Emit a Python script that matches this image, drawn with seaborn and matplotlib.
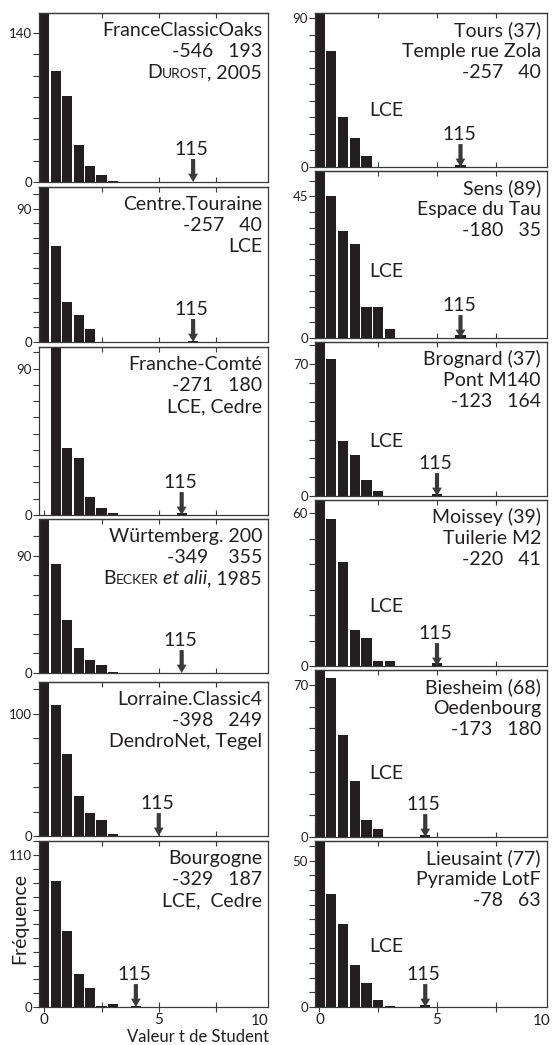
import numpy as np
import pandas as pd
import seaborn as sns
import matplotlib
matplotlib.use("Agg")
import matplotlib.pyplot as plt

# panels: left column top -> bottom, then right column top -> bottom
labels = [
    ["FranceClassicOaks", "-546   193", [("D", "n"), ("UROST", "sc"), (", 2005", "n")]],
    ["Centre.Touraine", "-257   40", "LCE"],
    ["Franche-Comté", "-271   180", "LCE, Cedre"],
    ["Würtemberg. 200", "-349    355",
     [("B", "n"), ("ECKER", "sc"), (" ", "gap"), ("et alii", "it"), (", 1985", "n")]],
    ["Lorraine.Classic4", "-398   249", "DendroNet, Tegel"],
    ["Bourgogne", "-329   187", "LCE,  Cedre"],
    ["Tours (37)", "Temple rue Zola", "-257   40"],
    ["Sens (89)", "Espace du Tau", "-180   35"],
    ["Brognard (37)", "Pont M140", "-123   164"],
    ["Moissey (39)", "Tuilerie M2", "-220   41"],
    ["Biesheim (68)", "Oedenbourg", "-173   180"],
    ["Lieusaint (77)", "Pyramide LotF", "-78   63"],
]

# counts per t-value bin (bins of 0.5, first bin centred on 0)
counts = [
    [220, 104, 81, 35, 15, 7, 1],
    [140, 65, 27, 18, 9],
    [0, 150, 41.5, 35, 11, 4.5, 1],
    [160, 84, 41, 19, 10, 6, 1],
    [150, 107, 67, 33, 19, 13, 2],
    [150, 91, 55, 24, 13.5, 1, 2],
    [120, 70, 30, 17.6, 6.7],
    [60, 45, 34, 30, 10, 10, 3],
    [100, 73, 29, 22, 8.4, 2.5],
    [80, 58, 41, 14, 11, 2, 2],
    [100, 73, 47, 26, 8, 3.5],
    [70, 38.6, 28.5, 14.3, 8.3, 2.3, 0.5],
]
# t value of sample 115 and its bin count
sample_t = [6.5, 6.5, 6.0, 6.0, 5.0, 4.0, 6.0, 6.0, 5.0, 5.0, 4.5, 4.5]
sample_n = [0, 1, 1, 0, 0, 1, 1, 1, 1, 1, 1, 0.6]
sample_id = "115"

ymax = [159, 104.6, 103.3, 118.3, 125.8, 120.3, 93.3, 53.1, 81.8, 65.3, 76.9, 56.7]
ystep = [20, 10, 10, 15, 20, 10, 10, 5, 10, 10, 10, 5]
ytop_label = [140, 90, 90, 90, 100, 110, 90, 45, 70, 60, 70, 50]
bin_w = 0.5

# floating "LCE" in the right column (axes fraction height)
lce_y = [0.369, 0.398, 0.352, 0.356, 0.38, 0.366]

sns.set_style("ticks")
plt.rcParams["font.family"] = ["Lato", "DejaVu Sans"]
INK = "#231f20"
AX = "#3a3a3a"
FS = 14

W, H = 552, 1045
fig = plt.figure(figsize=(W / 100, H / 100), dpi=100)
renderer = fig.canvas.get_renderer()

left_rows = [(13, 182), (187, 342), (347, 515), (519, 673), (682, 836), (841, 1007)]
right_rows = [(13, 167), (171, 338), (342, 496), (500, 666), (670, 837), (841, 1007)]
cols = [(39, 268, (-0.23, 9.77), left_rows), (315, 547, (-0.19, 9.68), right_rows)]


def right_line(ax, parts, y_pt):
    x_pt = 0
    for txt, kind in reversed(parts):
        if kind == "gap":
            x_pt -= 3.5
            continue
        t = ax.annotate(txt, xy=(0.974, 1), xycoords="axes fraction",
                        xytext=(x_pt, -y_pt), textcoords="offset points",
                        ha="right", va="baseline", color=INK,
                        fontsize=10 if kind == "sc" else FS,
                        fontstyle="italic" if kind == "it" else "normal")
        x_pt -= t.get_window_extent(renderer).width * 72 / fig.dpi


axes = []
for c, (x0, x1, xl, rows) in enumerate(cols):
    for r, (top, bot) in enumerate(rows):
        i = c * 6 + r
        ax = fig.add_axes([x0 / W, 1 - bot / H, (x1 - x0) / W, (bot - top) / H])
        axes.append(ax)

        n = counts[i]
        df = pd.DataFrame({"t": list(np.arange(len(n)) * bin_w) + [sample_t[i]],
                           "n": list(n) + [sample_n[i]]})
        edges = list(np.arange(-bin_w / 2, 10 + bin_w, bin_w))
        sns.histplot(data=df, x="t", weights="n", bins=edges, shrink=0.88,
                     color=INK, alpha=1, edgecolor="none", linewidth=0, ax=ax)
        ax.set_xlim(*xl)
        ax.set_ylim(0, ymax[i])
        ax.set_xlabel("")
        ax.set_ylabel("")

        for s in ax.spines.values():
            s.set_visible(True)
            s.set_color(AX)
            s.set_linewidth(0.9)

        yt = np.arange(0, ymax[i] + 1e-6, ystep[i])
        ax.set_yticks(yt)
        ax.set_yticklabels([str(int(v)) if v in (0, ytop_label[i]) else "" for v in yt])
        ax.tick_params(axis="y", direction="out", length=4, width=0.8, color=AX,
                       pad=1, labelsize=9.5, labelcolor=INK)

        bottom_row = r == 5
        ax.set_xticks([0, 2.5, 5, 7.5])
        if bottom_row:
            ax.set_xticklabels(["0", "", "5", ""])
            ax.tick_params(axis="x", direction="inout", length=6.5, width=0.8,
                           color=AX, labelsize=11, labelcolor=INK, pad=1)
            ax.text(0.975 if c == 1 else 0.965, -0.045, "10", transform=ax.transAxes,
                    ha="center", va="top", fontsize=11, color=INK)
        else:
            ax.set_xticklabels([])
            ax.tick_params(axis="x", direction="in", length=3.5, width=0.8, color=AX)
        sec = ax.secondary_xaxis("top")
        sec.set_xticks([2.5, 5, 7.5])
        sec.set_xticklabels([])
        sec.tick_params(direction="in", length=3.5, width=0.8, color=AX)
        sec.spines["top"].set_color(AX)
        sec.spines["top"].set_linewidth(0.9)

        # text block in the upper right corner
        for k, line in enumerate(labels[i]):
            parts = line if isinstance(line, list) else [(line, "n")]
            right_line(ax, parts, 16.5 + 15.2 * k)

        if c == 1:
            ax.text(0.232, lce_y[r], "LCE", transform=ax.transAxes, ha="left",
                    va="center", fontsize=FS, color=INK)

        # arrow on sample 115
        ax.annotate("", xy=(sample_t[i], 0), xytext=(0, 16.5), textcoords="offset points",
                    arrowprops=dict(width=3, headwidth=7, headlength=6, facecolor=AX,
                                    edgecolor="none", shrink=0))
        ax.annotate(sample_id, xy=(sample_t[i], 0), xytext=(-1, 19.5),
                    textcoords="offset points", ha="center", va="baseline",
                    fontsize=FS, color=INK)

fig.text(198 / W, 1 - 1042 / H, "Valeur t de Student", ha="center", va="baseline",
         fontsize=12, color=INK)
fig.text(20 / W, 1 - 918 / H, "Fréquence", rotation=90, ha="center", va="center",
         fontsize=14, color=INK)

fig.savefig("out.png", dpi=100)
